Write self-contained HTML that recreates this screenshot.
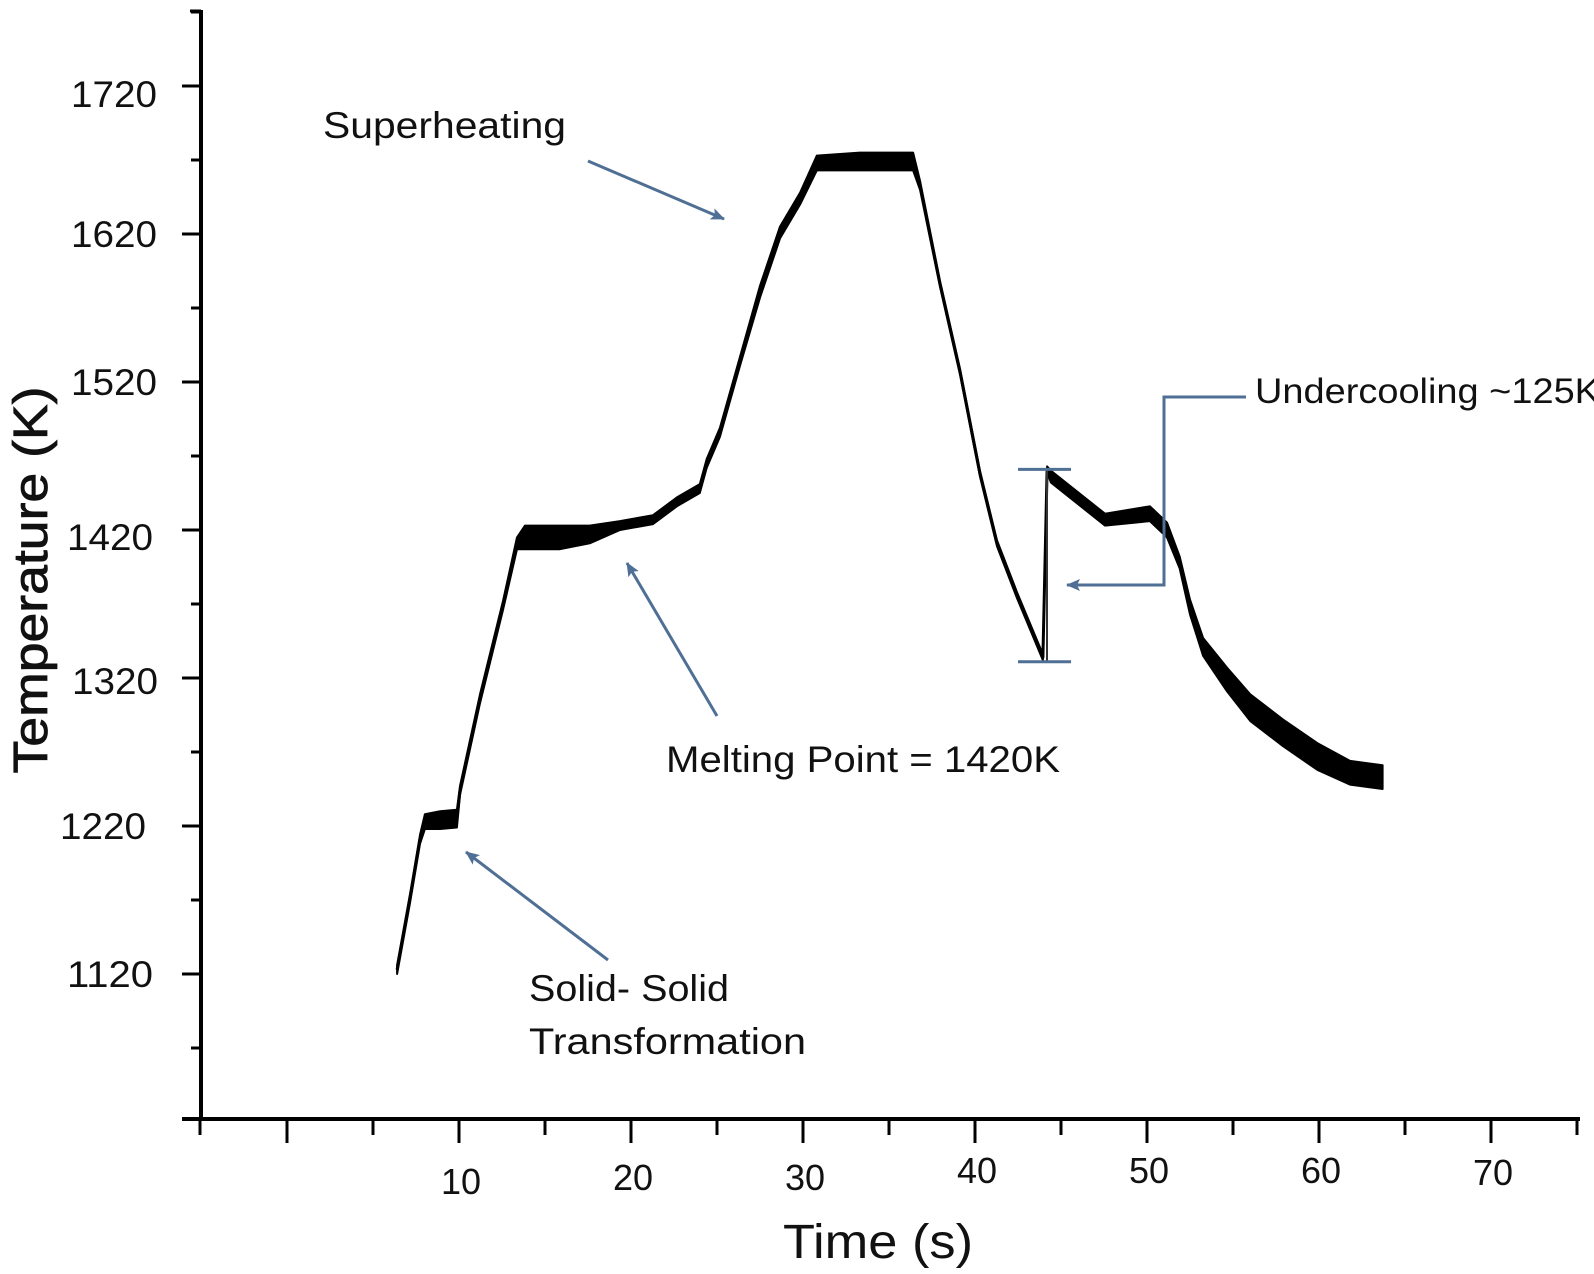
<!DOCTYPE html>
<html><head><meta charset="utf-8"><style>
html,body{margin:0;padding:0;background:#fff;}
svg{display:block;font-family:"Liberation Sans",sans-serif;}
</style></head><body>
<svg id="chart" width="1594" height="1274" viewBox="0 0 1594 1274" xmlns="http://www.w3.org/2000/svg">
<rect x="0" y="0" width="1594" height="1274" fill="#fff"/>
<g id="axes"></g>
<g id="series"></g>
<g id="annot"></g>
</svg>
<script>
const timeValues = [6.4,7.15,7.73,8.02,8.9,9.88,10.06,11.22,12.56,13.37,13.84,15.87,17.6,19.36,21.28,22.67,24.0,24.4,25.17,26.34,27.5,28.66,29.83,30.8,33.3,36.4,36.8,37.97,39.13,40.29,41.28,42.44,43.95,44.19,44.42,47.56,50.17,51.16,51.9,52.5,53.26,54.65,56.0,57.9,59.9,61.8,63.7];
const tempValues = [1123,1171,1211,1223,1224,1225,1244,1306,1369,1411,1415,1415,1417,1423,1427,1439,1448,1465,1486,1534,1581,1621,1644,1668,1669,1669,1653,1586,1527,1458,1411,1376,1334,1461,1456,1427,1431,1420,1398,1368,1341,1319,1300,1283,1267,1256,1253];
const noiseSpread = [3,3,3,5,6,6,3,3,3,4,8,8,6,3,3,3,3,3,3,3,4,4,4,5,6,6,3,2,2,2,2,2,2,2,4,4,5,5,4,5,6,8,9,9,9,8,8];
const xTickLabels = ["10","20","30","40","50","60","70"];
const xTickValues = [10,20,30,40,50,60,70];
const yTickLabels = ["1720","1620","1520","1420","1320","1220","1120"];
const yTickValues = [1720,1620,1520,1420,1320,1220,1120];
const undercoolTop = 1461, undercoolBottom = 1331;

const NS="http://www.w3.org/2000/svg";
function xs(t){return 287+17.2*t;}
function ys(T){return 530-(T-1420)*1.48;}
function mk(tag,attrs,parent){const e=document.createElementNS(NS,tag);for(const k in attrs)e.setAttribute(k,attrs[k]);parent.appendChild(e);return e;}

const axes=document.getElementById('axes');
let e;
e=mk('line',{x1:201,y1:10,x2:201,y2:1121,stroke:'#000','stroke-width':4},axes);


e=mk('line',{x1:182,y1:1119,x2:1580,y2:1119,stroke:'#000','stroke-width':4},axes);


mk('line',{x1:190,y1:11,x2:201,y2:11,stroke:'#000','stroke-width':3},axes);
for(let i=0;i<yTickValues.length;i++){
  const y=ys(yTickValues[i]);
  e=mk('line',{x1:182,y1:y,x2:201,y2:y,stroke:'#000','stroke-width':3},axes);
  
  
  const ym=ys(yTickValues[i]+50);
  e=mk('line',{x1:191,y1:ym,x2:201,y2:ym,stroke:'#000','stroke-width':3},axes);
  
  
}
e=mk('line',{x1:191,y1:ys(1070),x2:201,y2:ys(1070),stroke:'#000','stroke-width':3},axes);


const yLabelX=[157,157,157,153,158,146,153];
const yLabelDy=[8,0,0,7,3,0,0];
for(let i=0;i<yTickLabels.length;i++){
  e=mk('text',{x:yLabelX[i],y:ys(yTickValues[i])+yLabelDy[i]+13,'text-anchor':'end','font-size':37,textLength:86,lengthAdjust:'spacingAndGlyphs',fill:'#111'},axes);
  e.textContent=yTickLabels[i];
  
  
}
for(let t=-5;t<=75;t+=5){
  const x=xs(t)+(t<0?-1:0);
  const major=(t%10===0);
  e=mk('line',{x1:x,y1:1119,x2:x,y2:major?1143:1135,stroke:'#000','stroke-width':3},axes);
  
  
}
const xLabelDy=[1194,1190,1190,1183,1183,1183,1185];
for(let i=0;i<xTickLabels.length;i++){
  e=mk('text',{x:xs(xTickValues[i])+2,y:xLabelDy[i],'text-anchor':'middle','font-size':36,fill:'#111'},axes);
  e.textContent=xTickLabels[i];
  
  
}
e=mk('text',{x:0,y:0,transform:'translate(47,580) rotate(-90)','text-anchor':'middle','font-size':48,textLength:387,lengthAdjust:'spacingAndGlyphs',fill:'#111',stroke:'#111','stroke-width':0.8},axes);
e.textContent='Temperature (K)';


e=mk('text',{x:878,y:1258,'text-anchor':'middle','font-size':48,textLength:190,lengthAdjust:'spacingAndGlyphs',fill:'#111'},axes);
e.textContent='Time (s)';



const series=document.getElementById('series');
let up=[],lo=[],ln=[];
for(let i=0;i<timeValues.length;i++){
  const x=xs(timeValues[i]);
  up.push(x.toFixed(1)+','+ys(tempValues[i]+noiseSpread[i]).toFixed(1));
  lo.unshift(x.toFixed(1)+','+ys(tempValues[i]-noiseSpread[i]).toFixed(1));
  ln.push(x.toFixed(1)+','+ys(tempValues[i]).toFixed(1));
}
e=mk('polygon',{points:up.concat(lo).join(' '),fill:'#000',stroke:'#000','stroke-width':2,'stroke-linejoin':'round'},series);


e=mk('polyline',{points:ln.join(' '),fill:'none',stroke:'#000','stroke-width':3,'stroke-linejoin':'round'},series);



const an=document.getElementById('annot');
const blue='#4f6f95';
const defs=mk('defs',{},an);
const mkr=mk('marker',{id:'ah',markerWidth:14,markerHeight:12,refX:13,refY:6,orient:'auto',markerUnits:'userSpaceOnUse'},defs);
mk('path',{d:'M0,0 L14,6 L0,12 L3,6 Z',fill:blue},mkr);
function arrow(x1,y1,x2,y2,name){
  const a=mk('line',{x1:x1,y1:y1,x2:x2,y2:y2,stroke:blue,'stroke-width':3,'marker-end':'url(#ah)'},an);
  
  
}
function txt(x,y,s,fs,len,name){
  const t=mk('text',{x:x,y:y,'font-size':fs,textLength:len,lengthAdjust:'spacingAndGlyphs',fill:'#111'},an);
  t.textContent=s;
  
  
}
txt(323,138,'Superheating',37,243,'superheating-label');
arrow(588,161,724,219,'superheating-arrow');
txt(666,772,'Melting Point = 1420K',37,394,'melting-point-label');
arrow(717,716,627,563,'melting-point-arrow');
txt(529,1001,'Solid- Solid',37,200,'solid-solid-label');
txt(529,1054,'Transformation',37,277,'transformation-label');
arrow(608,960,466,852,'solid-solid-arrow');
const bx=1047;
e=mk('line',{x1:bx,y1:ys(undercoolTop),x2:bx,y2:ys(undercoolBottom),stroke:'#333','stroke-width':2},an);


e=mk('line',{x1:1018,y1:ys(undercoolTop),x2:1071,y2:ys(undercoolTop),stroke:blue,'stroke-width':3},an);


e=mk('line',{x1:1018,y1:ys(undercoolBottom),x2:1071,y2:ys(undercoolBottom),stroke:blue,'stroke-width':3},an);


e=mk('polyline',{points:'1246,397 1164,397 1164,585 1067,585',fill:'none',stroke:blue,'stroke-width':3,'marker-end':'url(#ah)'},an);


txt(1255,403,'Undercooling ~125K',35,345,'undercooling-label');
</script>
</body></html>
